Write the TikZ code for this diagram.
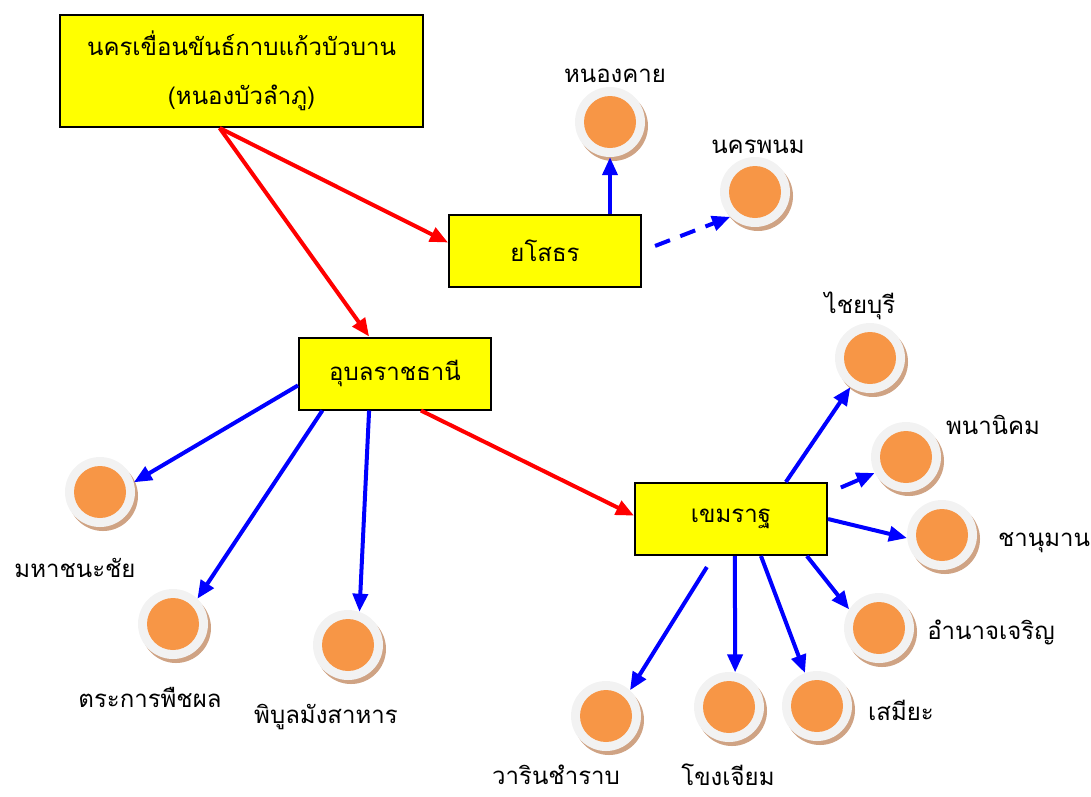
\documentclass[tikz,border=0pt]{standalone}
\usepackage{fontspec}
\newfontfamily\thaifont[Script=Thai]{Loma}
\usetikzlibrary{arrows.meta,positioning}
\definecolor{boxyellow}{HTML}{FFFF00}
\definecolor{dotorange}{HTML}{F79646}
\definecolor{ringgray}{HTML}{F2F2F2}
\definecolor{shadowtan}{HTML}{CFA384}
\tikzset{>={Triangle[length=18pt,width=15pt]}}

\begin{document}
\begin{tikzpicture}[
    x=1pt,y=-1pt,
    every node/.style={font=\thaifont\fontsize{24}{30}\selectfont},
    province/.style={
        draw=black,
        line width=2pt,
        fill=boxyellow,
        minimum width=192pt,
        minimum height=72pt,
        inner sep=0pt
    },
    town/.style={
        circle,
        fill=ringgray,
        minimum size=70pt,
        inner sep=0pt,
        preaction={fill=shadowtan,transform canvas={shift={(3pt,-4pt)}}},
        path picture={\fill[dotorange] (path picture bounding box.center) circle (26pt);}
    },
    mainlink/.style={red,line width=4pt,->},
    sublink/.style={blue,line width=4pt,->}
]
\useasboundingbox (0,0) rectangle (1091,796);

% provinces
\node[province,minimum width=363pt,minimum height=112pt,align=center,
      font=\thaifont\fontsize{24}{49}\selectfont] (kabin) at (241.5,71)
    {นครเขื่อนขันธ์กาบแก้วบัวบาน\\(หนองบัวลำภู)};
\node[province] (yaso) at (545,251) {ยโสธร};
\node[province] (ubon) at (395,373.5) {อุบลราชธานี};
\node[province] (khem) at (731,519) {เขมราฐ};

% towns
\node[town] (nongkhai) at (610,122) {};
\node (nongkhailbl) at (615,76) {หนองคาย};
\node[town] (nakhon) at (755,192) {};
\node (nakhonlbl) at (758,147) {นครพนม};

\node[town] (maha) at (100,492) {};
\node (mahalbl) at (75,568) {มหาชนะชัย};
\node[town] (trakan) at (173,624) {};
\node (trakanlbl) at (150,697) {ตระการพืชผล};
\node[town] (phibun) at (348,645) {};
\node (phibunlbl) at (326,717) {พิบูลมังสาหาร};

\node[town] (chai) at (870,358) {};
\node (chailbl) at (860,306) {ไชยบุรี};
\node[town] (phana) at (906,457) {};
\node (phanalbl) at (993,425) {พนานิคม};
\node[town] (chanu) at (942,535) {};
\node (chanulbl) at (1044,543) {ชานุมาน};
\node[town] (amnat) at (879,628) {};
\node (amnatlbl) at (991,632) {อำนาจเจริญ};
\node[town] (samiya) at (817,706) {};
\node (samiyalbl) at (901,710) {เสมียะ};
\node[town] (khong) at (729,707) {};
\node (khonglbl) at (728,775) {โขงเจียม};
\node[town] (warin) at (606,716) {};
\node (warinlbl) at (556,775) {วารินชำราบ};

% red links
\draw[mainlink] (kabin.249) -- (yaso.175);
\draw[mainlink] (kabin.249) -- (ubon.125);
\draw[mainlink] (ubon.305) -- (khem.178);

% blue links
\draw[sublink] (nongkhai.south |- yaso.north) -- (nongkhai.south);
\draw[sublink,dash pattern=on 16pt off 11pt,shorten <=14pt] (yaso.east) -- (nakhon.225);
\draw[sublink] (ubon.187) -- (maha.16);
\draw[sublink] (ubon.207) -- (trakan.46);
\draw[sublink] (ubon.235) -- (phibun.71);

\draw[sublink] (khem.34) -- (chai.236);
\draw[sublink,shorten <=14pt] (khem.15) -- (phana.207);
\draw[sublink] (khem.east) -- (chanu.185);
\draw[sublink] (khem.334) -- (amnat.148);
\draw[sublink] (khem.309) -- (samiya.110);
\draw[sublink] (khem.276) -- (khong.80);
\draw[sublink,shorten <=13pt] (khem.245) -- (warin.47);

\end{tikzpicture}
\end{document}
